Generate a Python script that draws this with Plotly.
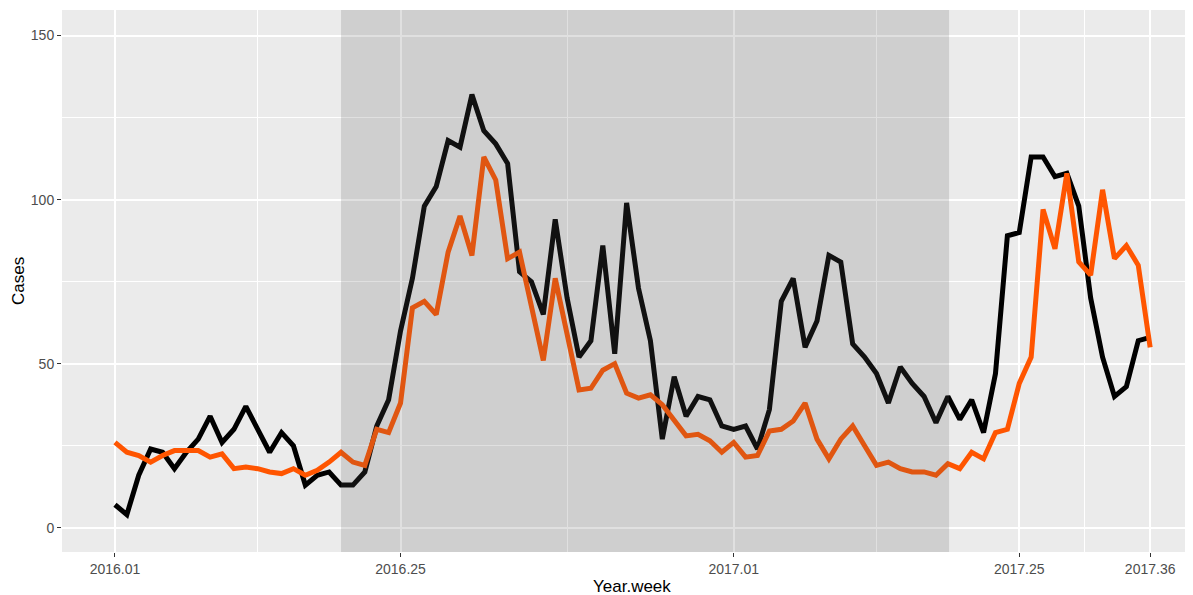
import plotly.graph_objects as go

weeks = [f"2016.{w:02d}" for w in range(1, 53)] + [f"2017.{w:02d}" for w in range(1, 37)]

black_cases = [7, 4, 16, 24, 23, 18, 23, 27, 34, 26, 30, 37, 30, 23, 29, 25, 13, 16, 17, 13,
               13, 17, 31, 39, 60, 76, 98, 104, 118, 116, 132, 121, 117, 111, 78, 75, 65, 94, 70, 52,
               57, 86, 53, 99, 73, 57, 27, 46, 34, 40, 39, 31, 30, 31, 24, 36, 69, 76, 55, 63,
               83, 81, 56, 52, 47, 38, 49, 44, 40, 32, 40, 33, 39, 29, 47, 89, 90, 113, 113, 107,
               108, 98, 70, 52, 40, 43, 57, 58]

orange_cases = [26, 23, 22, 20, 22, 23.5, 23.5, 23.5, 21.5, 22.5, 18, 18.5, 18, 17, 16.5, 18, 16, 17.5, 20, 23,
                20, 19, 30, 29, 38, 67, 69, 65, 84, 95, 83, 113, 106, 82, 84, 67, 51, 76, 59, 42,
                42.5, 48, 50, 41, 39.5, 40.5, 37.5, 33, 28, 28.5, 26.5, 23, 26, 21.5, 22, 29.5, 30, 32.5, 38, 27,
                21, 27, 31, 25, 19, 20, 18, 17, 17, 16, 19.5, 18, 23, 21, 29, 30, 44, 52, 97, 85,
                108, 81, 77, 103, 82, 86, 80, 55]

tick_labels = ["2016.01", "2016.25", "2017.01", "2017.25", "2017.36"]
y_ticks = [0, 50, 100, 150]
shade_start, shade_end = "2016.20", "2017.19"

idx = list(range(len(weeks)))
tick_pos = [weeks.index(t) for t in tick_labels]
minor_pos = [(tick_pos[i] + tick_pos[i + 1]) / 2 for i in range(len(tick_pos) - 1)]

fig = go.Figure()
fig.add_trace(go.Scatter(x=idx, y=black_cases, mode="lines",
                         line=dict(color="#000000", width=5), hovertext=weeks, showlegend=False))
fig.add_trace(go.Scatter(x=idx, y=orange_cases, mode="lines",
                         line=dict(color="#FF5500", width=5), hovertext=weeks, showlegend=False))

fig.add_shape(type="rect", xref="x", yref="paper",
              x0=weeks.index(shade_start), x1=weeks.index(shade_end) + 0.1, y0=0, y1=1,
              fillcolor="rgba(89,89,89,0.19)", line=dict(width=0), layer="above")

fig.add_annotation(text="Year.week", xref="paper", yref="paper", x=0.504, y=0,
                   xanchor="center", yanchor="middle", yshift=-34, showarrow=False,
                   font=dict(size=17, color="black", family="Liberation Sans, Arial, sans-serif"))
fig.add_annotation(text="Cases", xref="paper", yref="paper", x=-0.0389, y=0.5,
                   xanchor="center", yanchor="middle", textangle=-90, showarrow=False,
                   font=dict(size=17, color="black", family="Liberation Sans, Arial, sans-serif"))

# page body has an 8px default margin: compensate so the panel lands where the reference has it
fig.update_layout(
    width=1185, height=587,
    margin=dict(l=54, r=0, t=2, b=43),
    paper_bgcolor="white", plot_bgcolor="#EBEBEB",
    font=dict(family="Liberation Sans, Arial, sans-serif", color="#4D4D4D", size=14),
)
fig.update_xaxes(
    range=[-4.45, 90.6], tickmode="array", tickvals=tick_pos, ticktext=tick_labels,
    showgrid=True, gridcolor="white", gridwidth=1.6, zeroline=False, automargin=False,
    ticks="outside", ticklen=4, tickwidth=1.2, tickcolor="#333333",
    tickfont=dict(size=14, color="#4D4D4D"),
    minor=dict(tickmode="array", tickvals=minor_pos, showgrid=True, gridcolor="white", gridwidth=0.8, ticks=""),
    showline=False,
)
fig.update_yaxes(
    range=[-7.4, 157.8], tickmode="array", tickvals=y_ticks,
    showgrid=True, gridcolor="white", gridwidth=1.6, zeroline=False, automargin=False,
    ticks="outside", ticklen=4, tickwidth=1.2, tickcolor="#333333",
    tickfont=dict(size=14, color="#4D4D4D"),
    minor=dict(tickmode="array", tickvals=[25, 75, 125], showgrid=True, gridcolor="white", gridwidth=0.8, ticks=""),
    showline=False,
)

fig.write_html("out.html")
